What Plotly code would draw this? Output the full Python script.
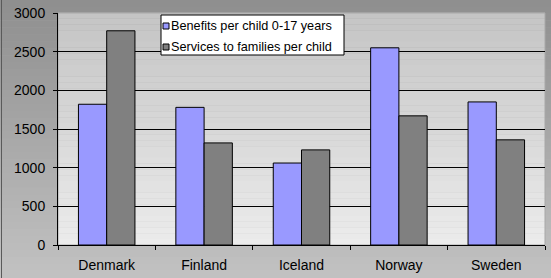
import plotly.graph_objects as go

countries = ["Denmark", "Finland", "Iceland", "Norway", "Sweden"]
benefits = [1820, 1780, 1060, 2550, 1850]
services = [2770, 1320, 1230, 1670, 1360]
series_names = ["Benefits per child 0-17 years", "Services to families per child"]
series_colors = ["#9999ff", "#808080"]

W, H = 551, 278
ML, MR, MT, MB = 58, 6, 13, 33
PW, PH = W - ML - MR, H - MT - MB

def px_x(x):
    return (x - ML) / PW

def px_y(y):
    return (H - MB - y) / PH

def lerp(c1, c2, t):
    return "rgb(%d,%d,%d)" % tuple(round(a + (b - a) * t) for a, b in zip(c1, c2))

shapes = []
annotations = []
# paper gradient (top dark -> bottom light)
N = 40
top_c, bot_c = (142, 142, 142), (194, 194, 194)
y0p, y1p = px_y(H), px_y(0)
x0p, x1p = px_x(0), px_x(W)
for i in range(N):
    a = y1p - (y1p - y0p) * i / N
    b = y1p - (y1p - y0p) * (i + 1) / N
    shapes.append(dict(type="rect", xref="paper", yref="paper", x0=x0p, x1=x1p, y0=b, y1=a + 0.002,
                       fillcolor=lerp(top_c, bot_c, (i + 0.5) / N), line=dict(width=0), layer="below"))
# plot area gradient
ptop, pbot = (196, 196, 196), (236, 236, 236)
for i in range(N):
    a = 1 - i / N
    b = 1 - (i + 1) / N
    shapes.append(dict(type="rect", xref="paper", yref="paper", x0=0, x1=1, y0=b, y1=a + 0.001,
                       fillcolor=lerp(ptop, pbot, (i + 0.5) / N), line=dict(width=0), layer="below"))
# plot area border (light)
shapes.append(dict(type="rect", xref="paper", yref="paper", x0=0, x1=1, y0=0, y1=1,
                   line=dict(color="#a8a8a8", width=1), fillcolor="rgba(0,0,0,0)", layer="below"))
# chart outer border (left edge)
shapes.append(dict(type="line", xref="paper", yref="paper", x0=px_x(1.5), x1=px_x(1.5),
                   y0=y0p, y1=y1p, line=dict(color="#5a5a5a", width=1), layer="below"))

# compact legend
shapes.append(dict(type="rect", xref="paper", yref="paper", x0=px_x(161), x1=px_x(344),
                   y0=px_y(55), y1=px_y(15), fillcolor="white",
                   line=dict(color="black", width=1), layer="above"))
leg_y = [26, 47]
for name, col, yy in zip(series_names, series_colors, leg_y):
    shapes.append(dict(type="rect", xref="paper", yref="paper", x0=px_x(163), x1=px_x(169),
                       y0=px_y(yy + 3), y1=px_y(yy - 3), fillcolor=col,
                       line=dict(color="black", width=1), layer="above"))
    annotations.append(dict(text=name, xref="paper", yref="paper", x=px_x(169), y=px_y(yy),
                            xanchor="left", yanchor="middle", showarrow=False,
                            font=dict(size=12.7, color="black")))

fig = go.Figure()
for name, col, vals in zip(series_names, series_colors, [benefits, services]):
    fig.add_trace(go.Bar(x=countries, y=vals, name=name,
                         marker=dict(color=col, line=dict(color="black", width=1))))

font = "Liberation Sans, Arial, sans-serif"
fig.update_layout(
    width=W, height=H,
    margin=dict(l=ML, r=MR, t=MT, b=MB, pad=0, autoexpand=False),
    paper_bgcolor="#b0b0b0", plot_bgcolor="rgba(0,0,0,0)",
    barmode="group", bargap=0.42, bargroupgap=0,
    font=dict(family=font, size=14, color="black"),
    shapes=shapes, annotations=annotations,
    showlegend=False,
)
fig.update_yaxes(range=[0, 3000], dtick=500, showgrid=True, gridcolor="black", gridwidth=1,
                 ticks="outside", ticklen=4, tickcolor="black", showline=True, linecolor="black",
                 zeroline=False, tickfont=dict(size=14), ticklabelstandoff=5, automargin=False)
fig.update_xaxes(tickson="boundaries", ticks="outside", ticklen=4, tickcolor="black",
                 showline=True, linecolor="black", tickfont=dict(size=14), ticklabelstandoff=7,
                 automargin=False)

fig.write_html("out.html", config={"displayModeBar": False},
               post_script="document.body.style.margin='0';document.body.style.overflow='hidden';")
